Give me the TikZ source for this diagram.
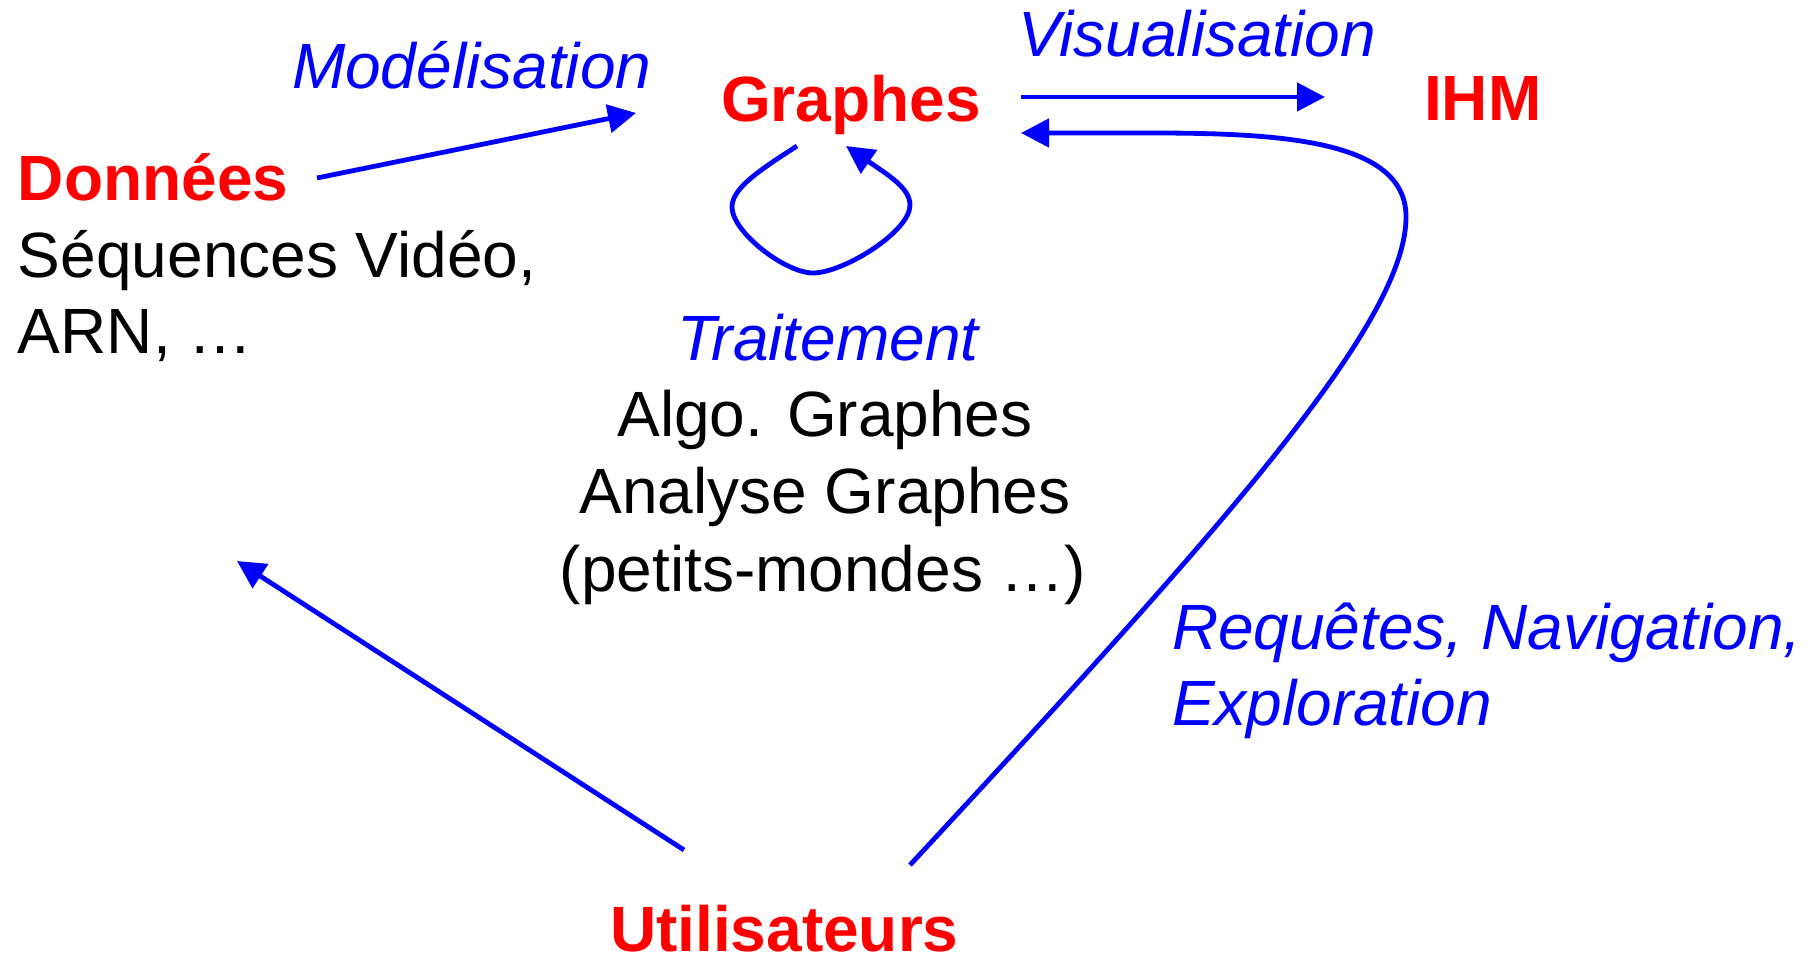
\documentclass[tikz,border=0pt]{standalone}
\usepackage{fontspec}
\setmainfont{Liberation Sans}
\usetikzlibrary{arrows.meta}
\definecolor{cblue}{RGB}{0,0,255}
\definecolor{cred}{RGB}{255,0,0}
\tikzset{
  txt/.style={inner sep=0pt, outer sep=0pt, font=\fontsize{32}{38.5}\selectfont},
  title/.style={txt, text=cred, font=\fontsize{32}{38.5}\selectfont\bfseries},
  lbl/.style={txt, text=cblue, font=\fontsize{32}{38.5}\selectfont\itshape},
  body/.style={txt, text=black},
  conn/.style={draw=cblue, line width=2.4pt, -{Triangle[length=14pt,width=14pt]}},
}
\begin{document}
\begin{tikzpicture}[x=0.5pt,y=-0.5pt]
\useasboundingbox (0,0) rectangle (1814,956);
% titles
\node[title, anchor=base west] (donnees) at (18,201) {Données};
\node[title, anchor=base west] (graphes) at (721,122) {Graphes};
\node[title, anchor=base west] (ihm) at (1424,121) {IHM};
\node[title, anchor=base west] (util) at (610,951) {Utilisateurs};
% body texts
\node[body, anchor=base west] (seq) at (18,278) {Séquences Vidéo,};
\node[body, anchor=base west] (arn) at (18,354) {ARN, …};
\node[lbl, anchor=base] (trait) at (828,361) {Traitement};
\node[body, anchor=base] (algo) at (825,437) {Algo. Graphes};
\node[body, anchor=base] (analyse) at (825,514) {Analyse Graphes};
\node[body, anchor=base] (petits) at (823,591) {(petits-mondes …)};
% labels
\node[lbl, anchor=base west] (model) at (292,89) {Modélisation};
\node[lbl, anchor=base west] (visu) at (1018,57) {Visualisation};
\node[lbl, anchor=base west] (req) at (1172,649) {Requêtes, Navigation,};
\node[lbl, anchor=base west] (explo) at (1172,725) {Exploration};
% connector end points
\coordinate (dOut) at (317,178);
\coordinate (gIn) at (636,113);
\coordinate (gOut) at (1021,97);
\coordinate (iIn) at (1325,97);
\coordinate (gBack) at (1021,133);
\coordinate (uOut1) at (684,850);
\coordinate (dIn) at (237,561);
\coordinate (uOut2) at (910,865);
\coordinate (loopA) at (797,146);
\coordinate (loopB) at (846,146);
% connectors
\draw[conn] (dOut) -- (gIn);
\draw[conn] (gOut) -- (iIn);
\draw[conn] (uOut1) -- (dIn);
\draw[conn] (uOut2) .. controls (1230,520) and (1408,320) .. (1406,215)
   .. controls (1404,140) and (1280,133) .. (1150,133) -- (gBack);
\draw[conn] (loopA) .. controls (760,170) and (732,188) .. (732,207)
   .. controls (732,232) and (785,273) .. (813,273)
   .. controls (843,273) and (910,232) .. (910,205)
   .. controls (910,188) and (888,175) .. (loopB);
\end{tikzpicture}
\end{document}
